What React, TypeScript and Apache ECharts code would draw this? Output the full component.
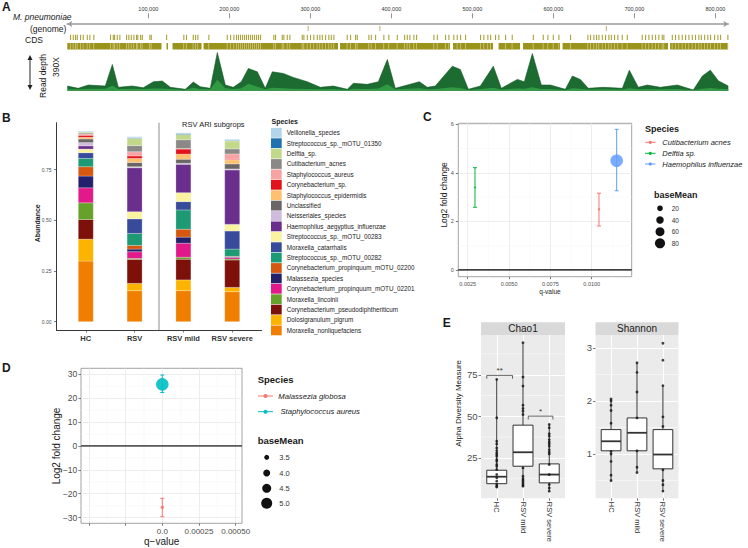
import React, { useEffect, useRef } from "react";
import * as echarts from "echarts";

const FONT = '"Liberation Sans", Arial, Helvetica, sans-serif';

// ================= Panel A : M. pneumoniae genome =================
const genomeTickBp = [100000, 200000, 300000, 400000, 500000, 600000, 700000, 800000];
const genomeLengthBp = 816000;
const depthPosKb = [0, 13.6, 25.9, 46.9, 55.6, 63.0, 80.2, 93.8, 106.2, 117.3, 127.2, 145.7, 155.6, 164.2, 176.5, 185.2, 195.1, 204.9, 214.8, 223.5, 234.6, 244.4, 253.1, 266.7, 279.0, 296.3, 312.3, 328.4, 345.7, 353.1, 370.4, 384.0, 395.1, 404.9, 419.8, 434.6, 444.4, 454.3, 475.3, 485.2, 495.1, 509.9, 525.9, 535.8, 555.6, 564.2, 574.1, 585.2, 596.3, 614.8, 623.5, 633.3, 643.2, 661.7, 685.2, 693.8, 704.9, 716.0, 732.1, 753.1, 772.8, 783.9, 793.8, 803.7, 816.0];
const depthTotal = [47, 24, 57, 47, 264, 34, 47, 30, 90, 97, 34, 14, 87, 40, 24, 384, 57, 34, 90, 224, 190, 24, 190, 174, 134, 90, 34, 47, 14, 74, 64, 90, 314, 24, 57, 90, 34, 47, 247, 214, 14, 47, 247, 24, 114, 90, 374, 57, 57, 14, 147, 114, 24, 34, 24, 207, 34, 57, 34, 57, 7, 147, 207, 100, 47];
const depthLower = [18, 14, 20, 20, 50, 16, 20, 16, 22, 22, 16, 10, 30, 18, 14, 110, 24, 16, 24, 70, 40, 14, 30, 24, 20, 18, 14, 16, 8, 20, 18, 22, 65, 14, 20, 24, 14, 18, 35, 28, 8, 16, 30, 12, 22, 20, 35, 18, 16, 8, 24, 20, 12, 14, 12, 25, 14, 18, 14, 16, 5, 20, 28, 20, 16];
const cdsMarkerKb = [296.7, 385.2, 664.7];
const cdsTickKb = [3.3, 6.7, 9.5, 11.6, 15.7, 19.0, 24.0, 27.2, 32.1, 52.7, 56.1, 57.7, 61.0, 64.2, 72.5, 75.3, 78.3, 81.5, 84.8, 86.4, 89.8, 91.9, 101.2, 103.0, 121.9, 143.2, 146.5, 154.8, 157.7, 160.5, 174.1, 196.8, 200.9, 205.0, 208.3, 210.7, 213.2, 215.7, 218.2, 220.6, 223.1, 225.6, 228.0, 230.5, 233.0, 235.4, 237.9, 254.3, 256.4, 264.7, 266.7, 270.9, 274.1, 289.4, 291.4, 295.6, 299.6, 303.7, 307.9, 311.1, 314.1, 318.2, 322.2, 325.2, 328.4, 344.9, 349.0, 355.2, 357.3, 371.6, 374.6, 379.9, 390.1, 396.3, 406.7, 415.7, 419.0, 422.2, 427.2, 430.5, 451.9, 456.1, 466.3, 470.4, 476.5, 480.7, 484.8, 491.0, 509.5, 513.6, 518.5, 521.9, 528.0, 532.1, 540.4, 548.6, 574.6, 586.9, 592.6, 599.3, 606.2, 620.6, 642.0, 645.3, 649.4, 652.7, 655.6, 659.8, 663.8, 667.9, 670.9, 674.9, 679.0, 684.4, 690.6, 709.1, 713.2, 717.3, 721.5, 725.6, 729.6, 733.8, 735.8, 746.2, 750.2, 754.3, 758.5, 762.6, 766.7, 770.9, 774.9, 779.0, 782.0, 786.1, 790.1, 793.5, 798.4, 802.5, 805.8, 814.8];
const cdsBlockKb = [[0, 116.3], [122.5, 124.3], [129.9, 165.7], [168.2, 334.2], [336.7, 472.5], [476.2, 525.6], [532.4, 558.9], [562.6, 608.3], [611.4, 741.6], [744.1, 815.7]];

// ================= Panel B : relative abundance =================
const abundanceGroups = ["HC", "RSV", "RSV mild", "RSV severe"];
const speciesB = [
  "Moraxella_nonliquefaciens", "Dolosigranulum_pigrum", "Corynebacterium_pseudodiphtheriticum", "Moraxella_lincolnii",
  "Corynebacterium_propinquum_mOTU_02201", "Malassezia_species", "Corynebacterium_propinquum_mOTU_02200",
  "Streptococcus_sp._mOTU_00282", "Moraxella_catarrhalis", "Streptococcus_sp._mOTU_00283",
  "Haemophilus_aegyptius_influenzae", "Neisseriales_species", "Unclassified", "Staphylococcus_epidermidis",
  "Corynebacterium_sp.", "Staphylococcus_aureus", "Cutibacterium_acnes", "Delftia_sp.",
  "Streptococcus_sp._mOTU_01350", "Veillonella_species",
];
const speciesBColors = [
  "#f07f00", "#fcb400", "#7d1109", "#66a12c", "#e1198a", "#25206b", "#d6570f", "#1d9a73", "#384a9c", "#fbf3a0",
  "#6a2f8c", "#cfbbdc", "#6a6666", "#fdc170", "#e2121a", "#f7a3a3", "#8b8888", "#c3d98a", "#1f72b0", "#b3d4ea",
];
const abundHC = [0.299, 0.108, 0.097, 0.082, 0.074, 0.058, 0.046, 0.041, 0.028, 0.018, 0.016, 0.016, 0.018, 0.008, 0.010, 0.006, 0.005, 0.005, 0.002, 0.002];
const abundRSV = [0.153, 0.036, 0.118, 0.005, 0.033, 0.013, 0.018, 0.059, 0.072, 0.035, 0.217, 0.005, 0.021, 0.020, 0.012, 0.021, 0.030, 0.036, 0.003, 0.005];
const abundMild = [0.153, 0.053, 0.102, 0.010, 0.069, 0.030, 0.039, 0.095, 0.041, 0.044, 0.140, 0.005, 0.020, 0.025, 0.025, 0.003, 0.043, 0.026, 0.005, 0.003];
const abundSevere = [0.148, 0.021, 0.135, 0.005, 0.008, 0.003, 0.002, 0.036, 0.089, 0.033, 0.268, 0.005, 0.025, 0.020, 0.003, 0.026, 0.025, 0.039, 0.003, 0.005];
const abundYTicks = [0, 0.25, 0.5, 0.75];
const subgroupDivider = [2.5];

// ================= Panel C =================
const cSpecies = ["Cutibacterium acnes", "Delftia sp.", "Haemophilus influenzae"];
const cColors = ["#F8766D", "#00BA38", "#619CFF"];
const cQValue = [0.01044, 0.00294, 0.01151];
const cLog2FC = [2.5, 3.4, 4.5];
const cLower = [1.81, 2.58, 3.26];
const cUpper = [3.16, 4.21, 5.79];
const cBaseMean = [1.5, 1, 130];
const cXTicks = [0.0025, 0.005, 0.0075, 0.01];
const cYTicks = [0, 2, 4, 6];
const cXMinor = [0.00375, 0.00625, 0.00875, 0.01125];
const cYMinor = [1, 3, 5];
const cBaseMeanLegend = [20, 40, 60, 80];

// ================= Panel D =================
const dSpecies = ["Malassezia globosa", " Staphylococcus aureus"];
const dColors = ["#F8766D", "#00BFC4"];
const dQValue = [0, 0];
const dLog2FC = [-25.7, 25.7];
const dLower = [-29.6, 22.3];
const dUpper = [-21.9, 29.6];
const dBaseMean = [3.1, 5.4];
const dXTicks = [-0.0005, -0.00025, 0, 0.00025, 0.0005];
const dXLabelTicks = [0, 0.00025, 0.0005];
const dYTicks = [-30, -20, -10, 0, 10, 20, 30];
const dXMinor = [-0.000375, -0.000125, 0.000125, 0.000375];
const dYMinor = [-25, -15, -5, 5, 15, 25];
const dBaseMeanLegend = [3.5, 4.0, 4.5, 5.0];

// ================= Panel E =================
const eGroups = ["HC", "RSV mild", "RSV severe"];
const chaoBoxHC = [7.5, 9.5, 13.7, 17.6, 72.2];
const chaoBoxMild = [8.0, 20.0, 28.4, 44.7, 94.3];
const chaoBoxSevere = [5.0, 10.0, 15.0, 21.4, 45.1];
const chaoPtsHC = [72.2, 49.1, 35.0, 33.4, 31.0, 29.4, 28.0, 27.0, 26.0, 24.0, 23.0, 21.0, 20.0, 18.0, 15.0, 13.0, 11.0, 9.0, 8.0, 7.5];
const chaoPtsMild = [94.3, 73.6, 68.2, 56.7, 54.7, 53.1, 51.1, 19.0, 14.0, 12.5, 11.5, 10.5, 9.5, 8.5, 8.0];
const chaoPtsSevere = [45.1, 43.1, 39.5, 38.1, 36.0, 34.6, 33.4, 32.0, 30.0, 28.6, 27.4, 21.0, 15.0, 9.0, 6.9, 5.0];
const chaoYTicks = [25, 50, 75];
const chaoYMinor = [12.5, 37.5, 62.5, 87.5];
const chaoSigX1 = [-0.38, 1.2];
const chaoSigX2 = [0.6, 2.14];
const chaoSigY = [74.6, 50.1];
const chaoSigTip = [72.6, 48.1];
const chaoSigLabel = ["**", "*"];
const shanBoxHC = [0.485, 1.06, 1.24, 1.46, 2.04];
const shanBoxMild = [0.65, 1.06, 1.40, 1.68, 2.72];
const shanBoxSevere = [0.30, 0.72, 0.99, 1.46, 2.29];
const shanPtsHC = [2.04, 2.0, 1.92, 1.82, 1.58, 1.05, 1.0, 0.86, 0.6, 0.5];
const shanPtsMild = [2.72, 2.54, 2.17, 1.68, 1.06, 0.75, 0.65];
const shanPtsSevere = [3.09, 2.77, 2.29, 1.70, 1.52, 0.70, 0.5, 0.42, 0.3];
const shanYTicks = [1, 2, 3];
const shanYMinor = [0.5, 1.5, 2.5];

const cSize = (bm: number) => 1.2 + Math.sqrt(bm);
const dSize = (bm: number) => Math.max(3, 4 * bm - 9);

function T(text: string, x: number, y: number, o: any = {}) {
  return {
    type: "text", x, y, rotation: o.rot || 0, silent: true, z: 10,
    style: {
      text, fill: o.color || "#1a1a1a", fontSize: o.size || 8, fontFamily: FONT,
      fontWeight: o.bold ? "bold" : "normal", fontStyle: o.italic ? "italic" : "normal",
      align: o.align || "left", verticalAlign: "middle",
    },
  };
}

function refLines(xi: number, yi: number, xs: number[], ys: number[], color: string, width: number, z = 1) {
  return {
    type: "custom", xAxisIndex: xi, yAxisIndex: yi, silent: true, z,
    data: [[0, 0]],
    renderItem: (params: any, api: any) => {
      const cs = params.coordSys;
      const children: any[] = [];
      xs.forEach((v) => {
        const px = api.coord([v, 0])[0];
        children.push({ type: "line", shape: { x1: px, y1: cs.y, x2: px, y2: cs.y + cs.height }, style: { stroke: color, lineWidth: width } });
      });
      ys.forEach((v) => {
        const py = api.coord([0, v])[1];
        children.push({ type: "line", shape: { x1: cs.x, y1: py, x2: cs.x + cs.width, y2: py }, style: { stroke: color, lineWidth: width } });
      });
      return { type: "group", children };
    },
  };
}

function errorBars(xi: number, yi: number, qs: number[], lo: number[], hi: number[], colors: string[], hw: number) {
  return {
    type: "custom", xAxisIndex: xi, yAxisIndex: yi, silent: true, z: 3,
    data: qs.map((q, i) => [q, lo[i], hi[i], i]),
    encode: { x: 0, y: [1, 2] },
    renderItem: (params: any, api: any) => {
      const q = api.value(0);
      const a = api.coord([q, api.value(1)]);
      const b = api.coord([q, api.value(2)]);
      const st = { stroke: colors[api.value(3)], lineWidth: 1 };
      return {
        type: "group", children: [
          { type: "line", shape: { x1: a[0], y1: a[1], x2: b[0], y2: b[1] }, style: st },
          { type: "line", shape: { x1: a[0] - hw, y1: a[1], x2: a[0] + hw, y2: a[1] }, style: st },
          { type: "line", shape: { x1: b[0] - hw, y1: b[1], x2: b[0] + hw, y2: b[1] }, style: st },
        ],
      };
    },
  };
}

function boxSeries(xi: number, yi: number, boxes: number[][]) {
  return {
    type: "custom", xAxisIndex: xi, yAxisIndex: yi, silent: true, z: 3,
    data: boxes.map((b, i) => [i, ...b]),
    encode: { x: 0, y: [1, 2, 3, 4, 5] },
    renderItem: (params: any, api: any) => {
      const x = api.value(0);
      const pLo = api.coord([x, api.value(1)]);
      const pQ1 = api.coord([x, api.value(2)]);
      const pMed = api.coord([x, api.value(3)]);
      const pQ3 = api.coord([x, api.value(4)]);
      const pHi = api.coord([x, api.value(5)]);
      const hw = api.size([0.76, 0])[0] / 2;
      const stroke = "#333";
      return {
        type: "group", children: [
          { type: "line", shape: { x1: pLo[0], y1: pLo[1], x2: pQ1[0], y2: pQ1[1] }, style: { stroke, lineWidth: 1 } },
          { type: "line", shape: { x1: pQ3[0], y1: pQ3[1], x2: pHi[0], y2: pHi[1] }, style: { stroke, lineWidth: 1 } },
          { type: "rect", shape: { x: pQ3[0] - hw, y: pQ3[1], width: 2 * hw, height: pQ1[1] - pQ3[1] }, style: { fill: "#fff", stroke, lineWidth: 1 } },
          { type: "line", shape: { x1: pMed[0] - hw, y1: pMed[1], x2: pMed[0] + hw, y2: pMed[1] }, style: { stroke, lineWidth: 1.8 } },
        ],
      };
    },
  };
}

function pointSeries(xi: number, yi: number, groups: number[][]) {
  const data: number[][] = [];
  groups.forEach((g, gi) => g.forEach((v) => data.push([gi, v])));
  return { type: "scatter", xAxisIndex: xi, yAxisIndex: yi, silent: true, z: 4, symbolSize: 2.8, itemStyle: { color: "#111" }, data };
}

function hiddenAxis(gridIndex: number, min: number, max: number, extra: any = {}) {
  return { type: "value", gridIndex, min, max, show: false, axisLine: { onZero: false }, ...extra };
}

function plotAxis(gridIndex: number, min: number, max: number, ticks: number[], o: any = {}) {
  return {
    type: "value", gridIndex, min, max,
    axisLine: { show: !!o.line, onZero: false, lineStyle: { color: "#222", width: 0.9 } },
    axisTick: { show: true, customValues: ticks, length: 2.5, lineStyle: { color: "#444", width: 0.7 } },
    axisLabel: {
      customValues: o.labelTicks || ticks, formatter: o.fmt || ((v: number) => String(v)),
      fontSize: o.size || 6, color: o.color || "#4d4d4d", margin: o.margin || 3.5, fontFamily: FONT,
      fontWeight: o.bold ? "bold" : "normal", rotate: o.rotate || 0,
    },
    splitLine: { show: !!o.split, lineStyle: { color: o.split || "#eee", width: o.splitW || 0.8 } },
  };
}

function buildOption() {
  const groupsB = [abundHC, abundRSV, abundMild, abundSevere];
  const gBase = { outerBoundsMode: "none", containLabel: false };

  const grid = [
    { ...gBase, left: 67.3, top: 18.3, width: 661, height: 5.7 },
    { ...gBase, left: 67.3, top: 24, width: 661, height: 26 },
    { ...gBase, left: 67.3, top: 51, width: 661, height: 39.7 },
    { ...gBase, left: 56.5, top: 122.7, width: 205, height: 207.3 },
    { ...gBase, left: 458.3, top: 123.3, width: 173.4, height: 153.4, show: true, borderColor: "#8a8a8a", borderWidth: 0.8, backgroundColor: "#fff" },
    { ...gBase, left: 81, top: 368.3, width: 161, height: 155, show: true, borderColor: "#8a8a8a", borderWidth: 0.8, backgroundColor: "#fff" },
    { ...gBase, left: 481, top: 335, width: 84, height: 163.3, show: true, borderWidth: 0, backgroundColor: "#ebebeb" },
    { ...gBase, left: 595.5, top: 335, width: 83, height: 163.3, show: true, borderWidth: 0, backgroundColor: "#ebebeb" },
  ];

  const xAxis: any[] = [
    {
      type: "value", gridIndex: 0, position: "top", min: 0, max: genomeLengthBp,
      axisLine: { show: false, onZero: false },
      axisTick: { show: true, customValues: genomeTickBp, length: 5, lineStyle: { color: "#777", width: 0.8 } },
      axisLabel: { customValues: genomeTickBp, formatter: (v: number) => v.toLocaleString("en-US"), fontSize: 5.5, color: "#333", margin: 6, fontFamily: FONT },
      splitLine: { show: false },
    },
    {
      type: "value", gridIndex: 0, position: "bottom", min: 0, max: genomeLengthBp,
      axisLine: { show: true, onZero: false, lineStyle: { color: "#9a9a9a", width: 1.6 }, symbol: ["arrow", "arrow"], symbolSize: [5, 5] },
      axisTick: { show: false }, axisLabel: { show: false }, splitLine: { show: false },
    },
    hiddenAxis(1, 0, genomeLengthBp),
    hiddenAxis(2, 0, genomeLengthBp),
    plotAxis(3, 0.4, 4.6, [1, 2, 3, 4], { line: true, fmt: (v: number) => abundanceGroups[Math.round(v) - 1], size: 7.5, bold: true, color: "#333", margin: 4.5 }),
    plotAxis(4, 0.00193, 0.01242, cXTicks, { fmt: (v: number) => v.toFixed(4), size: 5.5, margin: 4, split: "#e8e8e8" }),
    plotAxis(5, -0.000554, 0.000543, dXTicks, { labelTicks: dXLabelTicks, fmt: (v: number) => (Math.abs(v) < 1e-12 ? "0.0" : v.toFixed(5)), size: 8, margin: 3.7, split: "#e8e8e8" }),
    plotAxis(6, -0.6, 2.6, [0, 1, 2], { fmt: (v: number) => eGroups[Math.round(v)], size: 7.5, color: "#333", margin: 3.5, rotate: -90, split: "#ffffff", splitW: 1 }),
    plotAxis(7, -0.6, 2.6, [0, 1, 2], { fmt: (v: number) => eGroups[Math.round(v)], size: 7.5, color: "#333", margin: 3.5, rotate: -90, split: "#ffffff", splitW: 1 }),
  ];

  const yAxis: any[] = [
    hiddenAxis(0, 0, 1),
    hiddenAxis(1, 0, 26, { inverse: true }),
    hiddenAxis(2, 0, 400),
    plotAxis(3, -0.041, 0.981, abundYTicks, { line: true, fmt: (v: number) => v.toFixed(2), size: 5, margin: 5 }),
    plotAxis(4, -0.28, 6.04, cYTicks, { size: 5.5, margin: 4.5, split: "#e8e8e8" }),
    plotAxis(5, -32.35, 32.4, dYTicks, { fmt: (v: number) => (v < 0 ? "\u2212" + Math.abs(v) : String(v)), size: 8.5, margin: 3.7, split: "#e8e8e8" }),
    plotAxis(6, 0.72, 98.9, chaoYTicks, { size: 9.5, margin: 3.5, split: "#ffffff", splitW: 1 }),
    plotAxis(7, 0.164, 3.245, shanYTicks, { size: 9.5, margin: 3.5, split: "#ffffff", splitW: 1 }),
  ];

  const inBlock = (p: number) => cdsBlockKb.some((b) => p > b[0] + 0.8 && p < b[1] - 0.8);
  const cdsData: number[][] = [];
  cdsMarkerKb.forEach((p) => cdsData.push([p * 1000, p * 1000, 0]));
  cdsTickKb.forEach((p) => cdsData.push([p * 1000, p * 1000, 1]));
  cdsBlockKb.forEach((b) => cdsData.push([b[0] * 1000, b[1] * 1000, 2]));
  cdsTickKb.filter(inBlock).forEach((p) => cdsData.push([p * 1000, p * 1000, 3]));

  const series: any[] = [];

  // ---- Panel A ----
  series.push({
    type: "custom", xAxisIndex: 2, yAxisIndex: 1, silent: true,
    data: cdsData, encode: { x: [0, 1], y: 2 },
    renderItem: (params: any, api: any) => {
      const row = api.value(2);
      const yr = row === 0 ? [2, 7] : row === 1 ? [10.7, 16] : [19, 25.5];
      const p0 = api.coord([api.value(0), yr[0]]);
      const p1 = api.coord([api.value(1), yr[1]]);
      if (row === 3) {
        return { type: "rect", shape: { x: p0[0], y: p0[1], width: 0.8, height: p1[1] - p0[1] }, style: { fill: "#cfc786" } };
      }
      const w = Math.max(1.1, p1[0] - p0[0]);
      const fill = row === 0 ? "#bdb57a" : row === 1 ? "#aaa238" : "#9a941c";
      return { type: "rect", shape: { x: p0[0], y: p0[1], width: w, height: p1[1] - p0[1] }, style: { fill } };
    },
  });
  series.push({
    type: "line", xAxisIndex: 3, yAxisIndex: 2, silent: true, symbol: "none", showSymbol: false,
    data: depthPosKb.map((p, i) => [p * 1000, depthTotal[i]]),
    lineStyle: { width: 0.6, color: "#165a27" }, areaStyle: { color: "#1c6b30", opacity: 1 },
  });
  series.push({
    type: "line", xAxisIndex: 3, yAxisIndex: 2, silent: true, symbol: "none", showSymbol: false,
    data: depthPosKb.map((p, i) => [p * 1000, depthLower[i]]),
    lineStyle: { width: 0 }, areaStyle: { color: "#2f9a42", opacity: 1 },
  });

  // ---- Panel B (stacked bars) ----
  const cum = groupsB.map(() => 0);
  speciesB.forEach((name, i) => {
    const data = groupsB.map((g, gi) => {
      const lo = cum[gi];
      cum[gi] += g[i];
      return [gi + 1, lo, cum[gi]];
    });
    const color = speciesBColors[i];
    series.push({
      type: "custom", name, xAxisIndex: 4, yAxisIndex: 3, silent: true, z: 3,
      itemStyle: { color }, data, encode: { x: 0, y: [1, 2] },
      renderItem: (params: any, api: any) => {
        const x = api.value(0);
        const a = api.coord([x, api.value(1)]);
        const b = api.coord([x, api.value(2)]);
        return { type: "rect", shape: { x: a[0] - 7.5, y: b[1], width: 15, height: a[1] - b[1] }, style: { fill: color, stroke: "#ffffff", lineWidth: 0.25 } };
      },
    });
  });
  series.push(refLines(4, 3, subgroupDivider, [], "#a8a8a8", 1.3, 1));

  // ---- Panel C ----
  series.push(refLines(5, 4, cXMinor, cYMinor, "#f4f4f4", 0.5, 1));
  series.push(refLines(5, 4, [], [0], "#000000", 1.1, 2));
  series.push(errorBars(5, 4, cQValue, cLower, cUpper, cColors, 2));
  series.push({
    type: "scatter", xAxisIndex: 5, yAxisIndex: 4, silent: true, z: 4,
    data: cQValue.map((q, i) => ({ value: [q, cLog2FC[i]], symbolSize: cSize(cBaseMean[i]), itemStyle: { color: cColors[i], opacity: 0.85 } })),
  });

  // ---- Panel D ----
  series.push(refLines(6, 5, dXMinor, dYMinor, "#f4f4f4", 0.5, 1));
  series.push(refLines(6, 5, [], [0], "#5a5a5a", 1.6, 2));
  series.push(errorBars(6, 5, dQValue, dLower, dUpper, dColors, 2));
  series.push({
    type: "scatter", xAxisIndex: 6, yAxisIndex: 5, silent: true, z: 4,
    data: dQValue.map((q, i) => ({ value: [q, dLog2FC[i]], symbolSize: dSize(dBaseMean[i]), itemStyle: { color: dColors[i], opacity: 0.9 } })),
  });

  // ---- Panel E ----
  series.push(refLines(7, 6, [], chaoYMinor, "#ffffff", 0.5, 1));
  series.push(boxSeries(7, 6, [chaoBoxHC, chaoBoxMild, chaoBoxSevere]));
  series.push(pointSeries(7, 6, [chaoPtsHC, chaoPtsMild, chaoPtsSevere]));
  series.push({
    type: "custom", xAxisIndex: 7, yAxisIndex: 6, silent: true, z: 5,
    data: chaoSigX1.map((x1, i) => [x1, chaoSigY[i], chaoSigX2[i], chaoSigTip[i], i]),
    encode: { x: [0, 2], y: [1, 3] },
    renderItem: (params: any, api: any) => {
      const a = api.coord([api.value(0), api.value(1)]);
      const b = api.coord([api.value(2), api.value(1)]);
      const tipY = api.coord([api.value(0), api.value(3)])[1];
      const st = { stroke: "#444", lineWidth: 0.8, fill: "none" };
      return {
        type: "group", children: [
          { type: "polyline", shape: { points: [[a[0], tipY], [a[0], a[1]], [b[0], b[1]], [b[0], tipY]] }, style: st },
          { type: "text", x: (a[0] + b[0]) / 2, y: a[1] - 4.5, style: { text: chaoSigLabel[api.value(4)], fill: "#333", fontSize: 8, fontFamily: FONT, align: "center", verticalAlign: "middle" } },
        ],
      };
    },
  });
  series.push(refLines(8, 7, [], shanYMinor, "#ffffff", 0.5, 1));
  series.push(boxSeries(8, 7, [shanBoxHC, shanBoxMild, shanBoxSevere]));
  series.push(pointSeries(8, 7, [shanPtsHC, shanPtsMild, shanPtsSevere]));

  // ---- graphics ----
  const R = Math.PI / 2;
  const g: any[] = [
    T("A", 2, 7, { size: 12, bold: true }),
    T("M. pneumoniae", 13, 16.7, { size: 8.5, italic: true }),
    T("(genome)", 30, 29, { size: 8.5 }),
    T("CDS", 25, 40, { size: 8.5 }),
    { type: "line", silent: true, shape: { x1: 30, y1: 58, x2: 30, y2: 87 }, style: { stroke: "#222", lineWidth: 1 } },
    { type: "polygon", silent: true, shape: { points: [[27.5, 60], [30, 55], [32.5, 60]] }, style: { fill: "#222" } },
    { type: "polygon", silent: true, shape: { points: [[27.5, 85], [30, 90], [32.5, 85]] }, style: { fill: "#222" } },
    T("Read depth", 43, 76, { size: 8.5, rot: R, align: "center" }),
    T("390X", 56, 67, { size: 8.5, rot: R, align: "center" }),

    T("B", 2, 117.5, { size: 12, bold: true }),
    T("Abundance", 37.3, 223.3, { size: 7, bold: true, rot: R, align: "center" }),
    T("RSV ARI subgrops", 213.3, 124.3, { size: 7.5, align: "center", color: "#222" }),
    T("Species", 271.5, 121, { size: 7, bold: true }),

    T("C", 423, 116.7, { size: 12, bold: true }),
    T("Log2 fold change", 444, 195, { size: 8.5, rot: R, align: "center" }),
    T("q-value", 550, 291.7, { size: 6.5, align: "center" }),
    T("Species", 645, 129, { size: 9, bold: true }),
    T("baseMean", 654, 195, { size: 9, bold: true }),

    T("D", 2, 367.7, { size: 12, bold: true }),
    T("Log2 fold change", 56, 446, { size: 10, rot: R, align: "center" }),
    T("q\u2212value", 161.7, 541.7, { size: 10, align: "center" }),
    T("Species", 257.7, 379.3, { size: 9.5, bold: true }),
    T("baseMean", 257.7, 440.7, { size: 9.5, bold: true }),

    T("E", 442.7, 323.3, { size: 12, bold: true }),
    { type: "rect", silent: true, shape: { x: 481, y: 322.3, width: 84, height: 12.7 }, style: { fill: "#d9d9d9" } },
    { type: "rect", silent: true, shape: { x: 595.5, y: 322.3, width: 83, height: 12.7 }, style: { fill: "#d9d9d9" } },
    T("Chao1", 523, 328.8, { size: 10, align: "center" }),
    T("Shannon", 637, 328.8, { size: 10, align: "center" }),
    T("Alpha Diversity Measure", 458.3, 403.3, { size: 8, rot: R, align: "center" }),
  ];
  const cLegY = [142.3, 153.3, 164];
  cSpecies.forEach((s, i) => {
    g.push({ type: "line", silent: true, shape: { x1: 645, y1: cLegY[i], x2: 655.5, y2: cLegY[i] }, style: { stroke: cColors[i], lineWidth: 1 } });
    g.push({ type: "circle", silent: true, shape: { cx: 650.2, cy: cLegY[i], r: 1.6 }, style: { fill: cColors[i] } });
    g.push(T(s, 662.3, cLegY[i], { size: 7.5, italic: true }));
  });
  const cBmY = [208.3, 220, 231.7, 243.3];
  cBaseMeanLegend.forEach((bm, i) => {
    g.push({ type: "circle", silent: true, shape: { cx: 660, cy: cBmY[i], r: cSize(bm) / 2 }, style: { fill: "#111" } });
    g.push(T(String(bm), 671.7, cBmY[i], { size: 6.5, color: "#333" }));
  });
  const dLegY = [396, 411.7];
  dSpecies.forEach((s, i) => {
    g.push({ type: "line", silent: true, shape: { x1: 258, y1: dLegY[i], x2: 273, y2: dLegY[i] }, style: { stroke: dColors[i], lineWidth: 1 } });
    g.push({ type: "circle", silent: true, shape: { cx: 265.5, cy: dLegY[i], r: 2 }, style: { fill: dColors[i] } });
    g.push(T(s, 278.3, dLegY[i], { size: 7.7, italic: true }));
  });
  const dBmY = [457.3, 473, 488.3, 503.3];
  dBaseMeanLegend.forEach((bm, i) => {
    g.push({ type: "circle", silent: true, shape: { cx: 266.7, cy: dBmY[i], r: dSize(bm) / 2 }, style: { fill: "#111" } });
    g.push(T(bm.toFixed(1), 279.3, dBmY[i], { size: 7.5, color: "#333" }));
  });

  return {
    animation: false,
    backgroundColor: "#ffffff",
    textStyle: { fontFamily: FONT },
    grid, xAxis, yAxis, series,
    legend: [{
      data: [...speciesB].reverse(), orient: "vertical", left: 271, top: 127.9,
      itemWidth: 10.7, itemHeight: 9.8, itemGap: 0.6, padding: 0, icon: "rect", selectedMode: false,
      textStyle: { fontSize: 6.3, color: "#222", fontFamily: FONT },
    }],
    graphic: g,
  };
}

export default function App() {
  const ref = useRef<HTMLDivElement>(null);
  useEffect(() => {
    if (!ref.current) return;
    const chart = echarts.init(ref.current, null, { renderer: "svg" });
    chart.setOption(buildOption() as any);
    return () => chart.dispose();
  }, []);
  return <div ref={ref} style={{ position: "absolute", left: 0, top: 0, width: 748, height: 548, background: "#fff" }} />;
}
